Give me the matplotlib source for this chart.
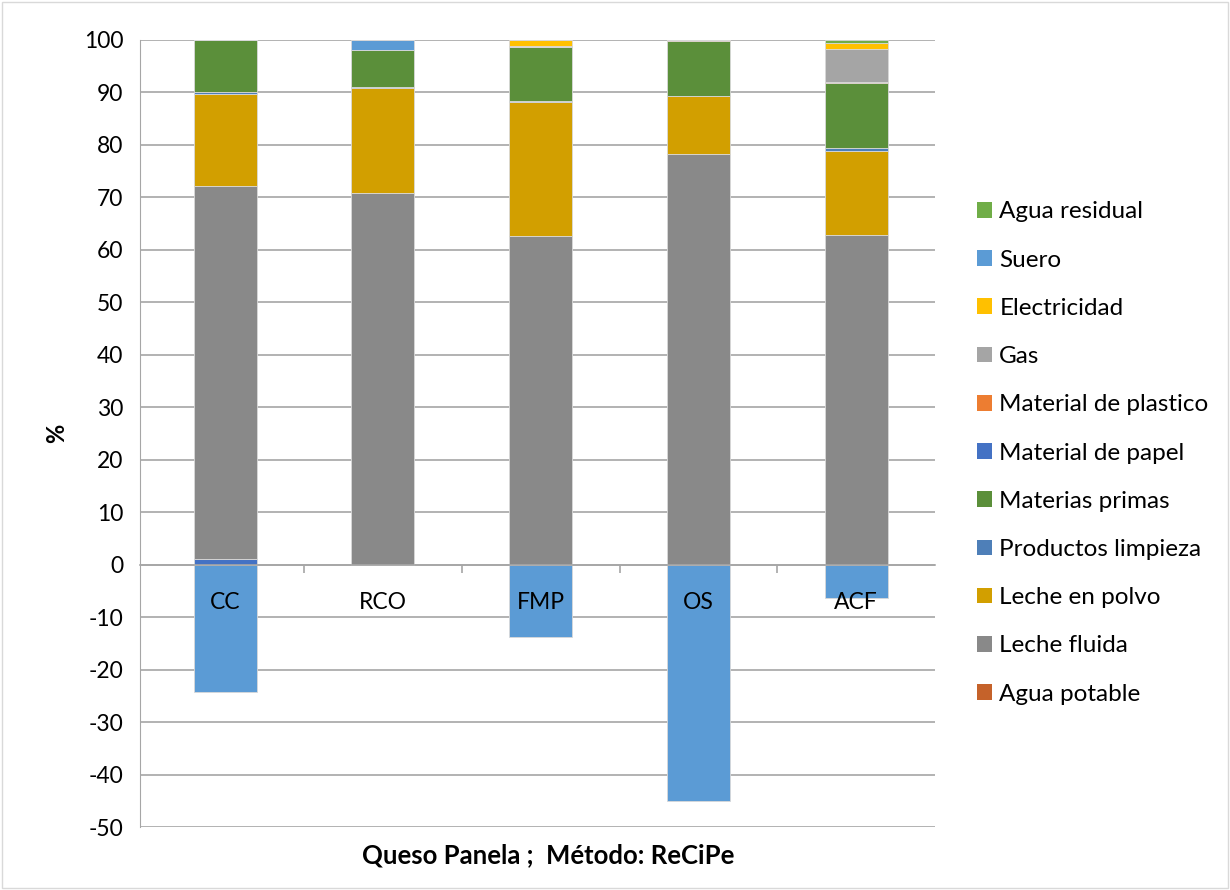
import numpy as np
import matplotlib.pyplot as plt
from matplotlib.patches import Patch, Rectangle

plt.rcParams['font.family'] = ['Lato', 'DejaVu Sans']
plt.rcParams['axes.unicode_minus'] = False

categorias = ['CC', 'RCO', 'FMP', 'OS', 'ACF']

# contribucion (%) de cada etapa, por planta
agua_potable = [0.0, 0.0, 0.0, 0.0, 0.0]
material_papel = [1.0, 0.0, 0.0, 0.0, 0.0]
leche_fluida = [71.2, 70.8, 62.6, 78.2, 62.9]
leche_polvo = [17.6, 20.1, 25.5, 11.1, 16.0]
productos_limpieza = [0.2, 0.1, 0.3, 0.1, 0.5]
materias_primas = [10.0, 7.0, 10.3, 10.4, 12.4]
material_plastico = [0.0, 0.0, 0.0, 0.2, 0.2]
gas = [0.0, 0.0, 0.2, 0.0, 6.3]
electricidad = [0.0, 0.0, 1.1, 0.0, 1.2]
suero = [-24.2, 2.0, -13.7, -45.0, -6.4]
agua_residual = [0.0, 0.0, 0.0, 0.0, 0.5]

# orden de apilado (de abajo hacia arriba)
series = [
    ('Agua potable', agua_potable, '#C5622A'),
    ('Material de papel', material_papel, '#4472C4'),
    ('Leche fluida', leche_fluida, '#898989'),
    ('Leche en polvo', leche_polvo, '#D29F00'),
    ('Productos limpieza', productos_limpieza, '#4E7FB8'),
    ('Materias primas', materias_primas, '#5B8F3A'),
    ('Material de plastico', material_plastico, '#ED7D31'),
    ('Gas', gas, '#A5A5A5'),
    ('Electricidad', electricidad, '#FFC000'),
    ('Suero', suero, '#5B9BD5'),
    ('Agua residual', agua_residual, '#70AD47'),
]

# orden de la leyenda
orden_leyenda = ['Agua residual', 'Suero', 'Electricidad', 'Gas', 'Material de plastico',
                 'Material de papel', 'Materias primas', 'Productos limpieza',
                 'Leche en polvo', 'Leche fluida', 'Agua potable']

fig = plt.figure(figsize=(12.3, 8.9), dpi=100)
ax = fig.add_axes([140 / 1230, 63 / 890, 795 / 1230, 787 / 890])

x = np.arange(len(categorias))
pos = np.zeros(len(x))
neg = np.zeros(len(x))
colores = {}
for nombre, vals, color in series:
    v = np.array(vals)
    base = np.where(v >= 0, pos, neg)
    ax.bar(x, v, 0.4, bottom=base, color=color, edgecolor='#d9d9d9', linewidth=0.6, zorder=2)
    pos = pos + np.where(v >= 0, v, 0)
    neg = neg + np.where(v < 0, v, 0)
    colores[nombre] = color

ax.set_xlim(-0.54, 4.5)
ax.set_ylim(-50, 100)
ax.set_yticks(np.arange(-50, 101, 10))
ax.yaxis.grid(True, color='#a6a6a6', linewidth=1.2, zorder=0)
ax.set_axisbelow(True)
ax.tick_params(axis='y', length=0, pad=12, labelsize=16.5)

for s in ['top', 'right']:
    ax.spines[s].set_visible(False)
ax.spines['left'].set_color('#a6a6a6')
ax.spines['bottom'].set_position(('data', 0))
ax.spines['bottom'].set_color('#a6a6a6')
ax.spines['bottom'].set_linewidth(1.2)

ax.set_xticks(x)
ax.set_xticklabels([])
ax.set_xticks(np.arange(0.5, 4.5, 1), minor=True)
ax.tick_params(axis='x', which='major', length=0)
ax.tick_params(axis='x', which='minor', length=6, color='#a6a6a6', width=1.2)
for i, c in enumerate(categorias):
    ax.text(i, -7.2, c, ha='center', va='center', fontsize=16.5, zorder=5)

ax.set_ylabel('%', fontsize=17, fontweight='bold', labelpad=11)
fig.text(548 / 1230, 1 - 855 / 890, 'Queso Panela ;  Método: ReCiPe',
         ha='center', va='center', fontsize=18.5, fontweight='bold')

handles = [Patch(facecolor=colores[n], edgecolor='none') for n in orden_leyenda]
fig.legend(handles, orden_leyenda, loc='center left', bbox_to_anchor=(977 / 1230, 1 - 453 / 890),
           frameon=False, fontsize=17.5, handlelength=0.62, handleheight=0.62,
           handletextpad=0.3, labelspacing=1.12, borderpad=0, borderaxespad=0)

fig.add_artist(Rectangle((0.002, 0.002), 0.996, 0.996, transform=fig.transFigure,
                         fill=False, edgecolor='#d9d9d9', linewidth=1))

fig.savefig('out.png', dpi=100)
